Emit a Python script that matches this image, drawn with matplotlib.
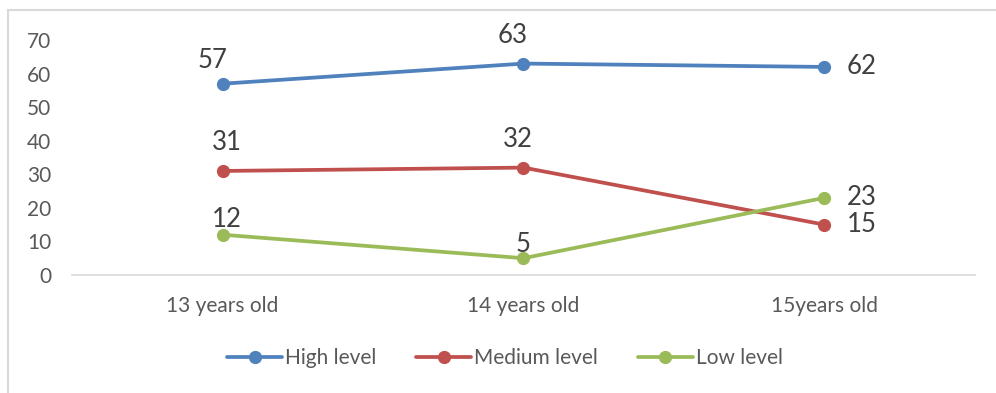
import matplotlib.pyplot as plt
from matplotlib.patches import Rectangle

# Chart data
ages = ['13 years old', '14 years old', '15years old']
high = [57, 63, 62]
medium = [31, 32, 15]
low = [12, 5, 23]
series_names = ['High level', 'Medium level', 'Low level']
colors = ['#4F81BD', '#C0504D', '#9BBB59']
y_ticks = [0, 10, 20, 30, 40, 50, 60, 70]

plt.rcParams['font.family'] = ['Lato', 'DejaVu Sans']

fig = plt.figure(figsize=(9.96, 3.93), dpi=100)
ax = fig.add_axes([0.0723, 0.3003, 0.9066, 0.5977])

# outer chart border (Excel style)
fig.patches.append(Rectangle((8 / 996, -0.05), 1.1, (393 - 10) / 393 + 0.05,
                             transform=fig.transFigure, fill=False,
                             edgecolor='#D9D9D9', linewidth=1.5))

x = range(len(ages))
lines = []
for vals, name, c in zip([high, medium, low], series_names, colors):
    ln, = ax.plot(x, vals, color=c, linewidth=2.7, marker='o', markersize=8.5,
                  label=name, solid_capstyle='round')
    lines.append(ln)

# label offsets in pixels (dx, dy) relative to each point, last point goes right
label_offsets = [
    [(-10, 23), (-11, 28)],
    [(4, 28), (-6, 28)],
    [(4, 15), (0, 14)],
]
label_color = '#404040'
for vals, offs in zip([high, medium, low], label_offsets):
    for i, v in enumerate(vals):
        if i < 2:
            dx, dy = offs[i]
            ax.annotate(str(v), (i, v), xytext=(dx * 0.72, dy * 0.72),
                        textcoords='offset points', ha='center', va='center',
                        fontsize=18.5, color=label_color)
        else:
            ax.annotate(str(v), (i, v), xytext=(16, 0), textcoords='offset points',
                        ha='left', va='center', fontsize=18.5, color=label_color)

ax.set_xlim(-0.5, 2.5)
ax.set_ylim(0, 70)
ax.set_yticks(y_ticks)
ax.set_xticks(list(x))
ax.set_xticklabels(ages)
ax.tick_params(axis='both', length=0, labelsize=15, labelcolor='#595959')
ax.tick_params(axis='y', pad=15)
ax.tick_params(axis='x', pad=15)
for s in ['top', 'right', 'left']:
    ax.spines[s].set_visible(False)
ax.spines['bottom'].set_color('#D9D9D9')
ax.spines['bottom'].set_linewidth(1.2)

fig.legend(handles=lines, labels=series_names, loc='center', bbox_to_anchor=(0.507, 0.089),
           ncol=3, frameon=False, fontsize=15, labelcolor='#595959',
           handlelength=2.64, handletextpad=0.15, columnspacing=1.9)

fig.savefig('out.png', dpi=100)
